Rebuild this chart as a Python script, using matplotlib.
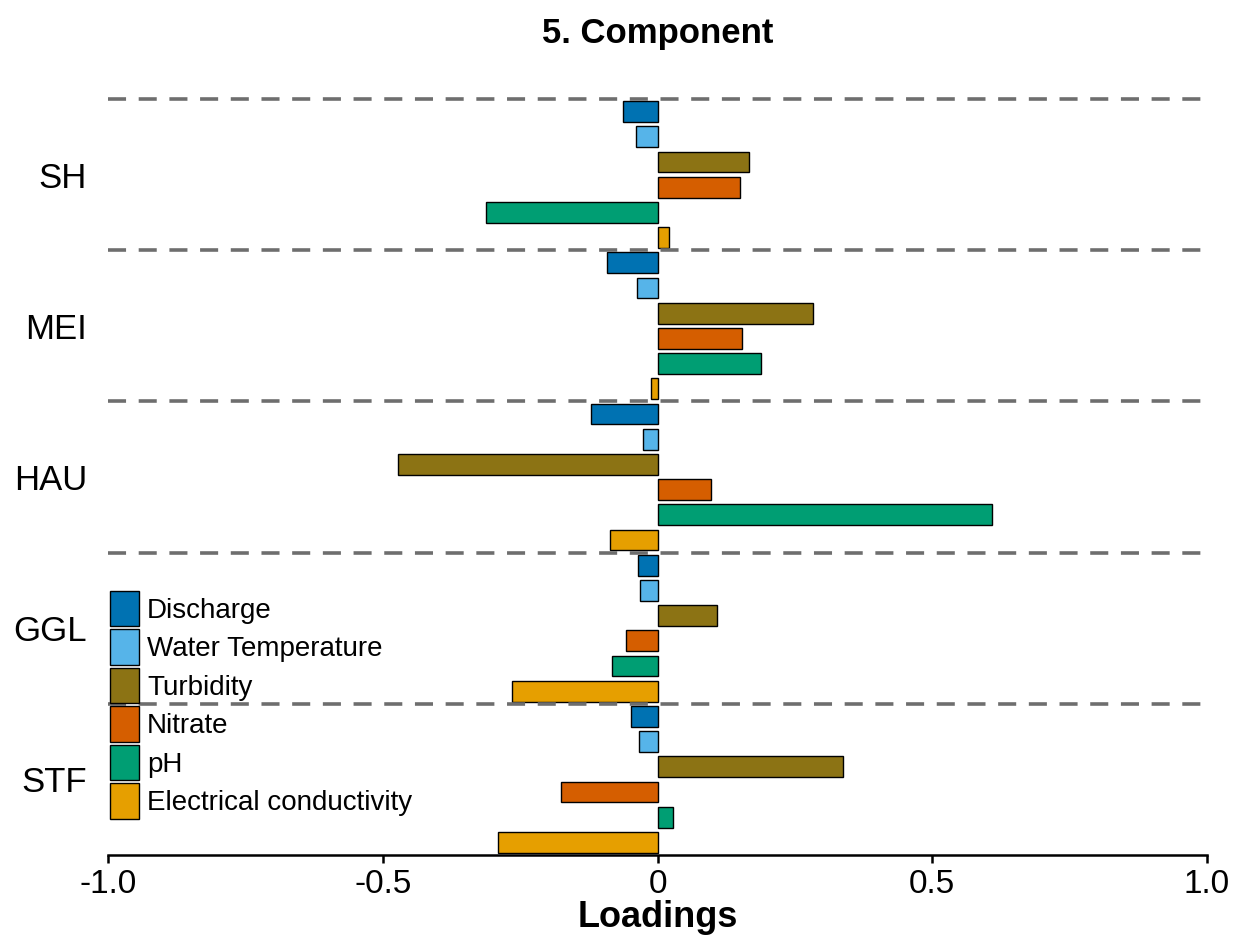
import matplotlib
matplotlib.use("Agg")
import matplotlib.pyplot as plt
from matplotlib.patches import Patch
import numpy as np

plt.rcParams['font.family'] = ['Liberation Sans', 'DejaVu Sans']

sites = ["SH", "MEI", "HAU", "GGL", "STF"]
variables = ["Discharge", "Water Temperature", "Turbidity", "Nitrate", "pH",
             "Electrical conductivity"]
colors = ["#0072B2", "#56B4E9", "#8C7314", "#D55E00", "#009E73", "#E69F00"]

loadings = {
    "SH":  [-0.063, -0.039, 0.167, 0.150, -0.312, 0.021],
    "MEI": [-0.092, -0.037, 0.283, 0.154, 0.188, -0.012],
    "HAU": [-0.121, -0.026, -0.473, 0.097, 0.608, -0.087],
    "GGL": [-0.035, -0.031, 0.108, -0.057, -0.083, -0.265],
    "STF": [-0.048, -0.034, 0.338, -0.176, 0.028, -0.290],
}

fig = plt.figure(figsize=(12.33, 9.42), dpi=100)
ax = fig.add_axes([108/1233, 1 - 855/942, 1099/1233, (855 - 99)/942])

nvar = len(variables)
for g, site in enumerate(sites):
    for j, val in enumerate(loadings[site]):
        ax.barh(g * nvar + j, val, height=0.82, color=colors[j],
                edgecolor="black", linewidth=1.0, zorder=2)

for g in range(len(sites)):
    ax.axhline(g * nvar - 0.5, color="#6e6e6e", linewidth=2.6,
               linestyle=(0, (5, 3.5)), zorder=3, clip_on=False)

ax.set_ylim(len(sites) * nvar - 0.5, -0.5)
ax.set_xlim(-1, 1)
ax.set_yticks([g * nvar + (nvar - 1) / 2 for g in range(len(sites))])
ax.set_yticklabels(sites, fontsize=25)
ax.tick_params(axis="y", length=0, pad=15)
ax.set_xticks([-1.0, -0.5, 0, 0.5, 1.0])
ax.set_xticklabels(["-1.0", "-0.5", "0", "0.5", "1.0"], fontsize=24)
ax.tick_params(axis="x", length=6, width=1.8, pad=4)

for s in ["top", "right", "left"]:
    ax.spines[s].set_visible(False)
ax.spines["bottom"].set_linewidth(1.8)

ax.set_title("5. Component", fontsize=25, fontweight="bold", pad=40)
ax.set_xlabel("Loadings", fontsize=26, fontweight="bold", labelpad=0)

handles = [Patch(facecolor=c, edgecolor="black", linewidth=1.0) for c in colors]
leg = fig.legend(handles, variables, loc="upper left",
                 bbox_to_anchor=(110/1233, 1 - 591/942), frameon=False,
                 fontsize=20, handlelength=1.04, handleheight=1.57,
                 labelspacing=0.12, handletextpad=0.3, borderpad=0,
                 borderaxespad=0)

fig.savefig("out.png", dpi=100)
